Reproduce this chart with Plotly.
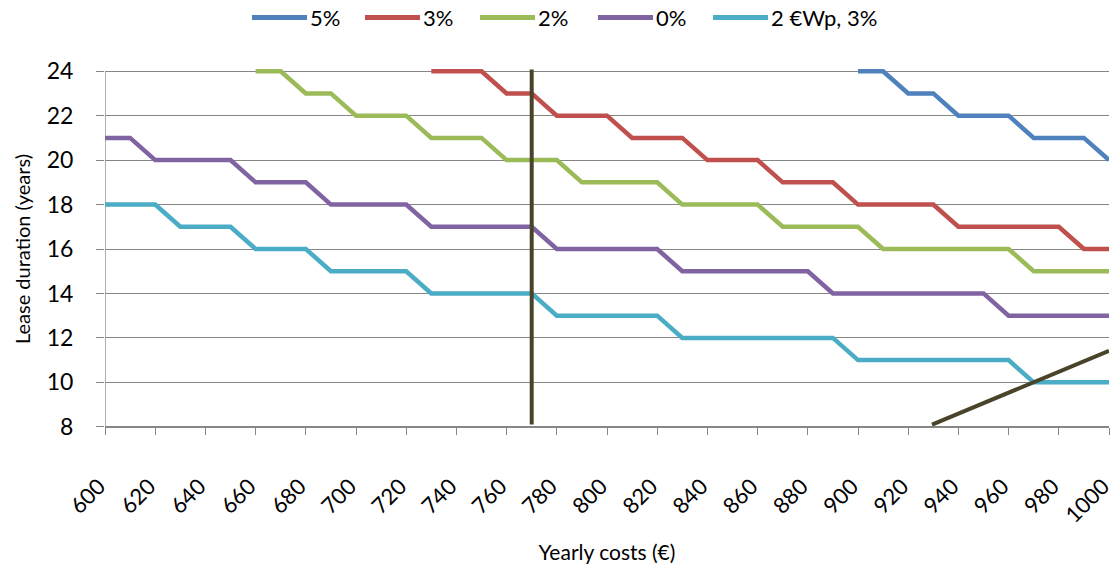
import plotly.graph_objects as go

# Yearly lease costs (EUR), one category every 10 EUR
yearly_costs = [600, 610, 620, 630, 640, 650, 660, 670, 680, 690,
                700, 710, 720, 730, 740, 750, 760, 770, 780, 790,
                800, 810, 820, 830, 840, 850, 860, 870, 880, 890,
                900, 910, 920, 930, 940, 950, 960, 970, 980, 990, 1000]

# Lease duration (years); None where the value lies above the axis maximum
rate_5 = [None] * 30 + [24, 24, 23, 23, 22, 22, 22, 21, 21, 21, 20]
rate_3 = [None] * 13 + [24, 24, 24, 23, 23, 22, 22, 22, 21, 21,
                        21, 20, 20, 20, 19, 19, 19, 18, 18, 18,
                        18, 17, 17, 17, 17, 17, 16, 16]
rate_2 = [None] * 6 + [24, 24, 23, 23, 22, 22, 22, 21, 21, 21,
                       20, 20, 20, 19, 19, 19, 19, 18, 18, 18,
                       18, 17, 17, 17, 17, 16, 16, 16, 16, 16,
                       16, 15, 15, 15, 15]
rate_0 = [21, 21, 20, 20, 20, 20, 19, 19, 19, 18,
          18, 18, 18, 17, 17, 17, 17, 17, 16, 16,
          16, 16, 16, 15, 15, 15, 15, 15, 15, 14,
          14, 14, 14, 14, 14, 14, 13, 13, 13, 13, 13]
wp2_rate_3 = [18, 18, 18, 17, 17, 17, 16, 16, 16, 15,
              15, 15, 15, 14, 14, 14, 14, 14, 13, 13,
              13, 13, 13, 12, 12, 12, 12, 12, 12, 12,
              11, 11, 11, 11, 11, 11, 11, 10, 10, 10, 10]

series_names = ["5%", "3%", "2%", "0%", "2 €Wp, 3%"]
series_values = [rate_5, rate_3, rate_2, rate_0, wp2_rate_3]
series_colors = ["#4F81BD", "#C0504D", "#9BBB59", "#8064A2", "#4BACC6"]

# Reference lines drawn over the chart
cost_mark_x = [770, 770]
cost_mark_y = [8.1, 24.08]
trend_mark_x = [929.5, 1000]
trend_mark_y = [8.1, 11.42]

x_tick_values = [600, 620, 640, 660, 680, 700, 720, 740, 760, 780, 800,
                 820, 840, 860, 880, 900, 920, 940, 960, 980, 1000]
y_tick_values = [8, 10, 12, 14, 16, 18, 20, 22, 24]

FONT = "Lato"
GRID = "#868686"
MARK = "#494429"
W, H = 1119, 564
M_L, M_R, M_T, M_B = 105, 10, 68.5, 135

fig = go.Figure()
for name, vals, color in zip(series_names, series_values, series_colors):
    fig.add_trace(go.Scatter(
        x=yearly_costs, y=vals, name=name, mode="lines",
        line=dict(color=color, width=4.5),
        connectgaps=False, showlegend=False,
    ))

for mx, my in ((cost_mark_x, cost_mark_y), (trend_mark_x, trend_mark_y)):
    fig.add_trace(go.Scatter(
        x=mx, y=my, mode="lines", showlegend=False, hoverinfo="skip",
        line=dict(color=MARK, width=4),
    ))

y_lo, y_hi = 7.9, 24.1

# left axis line between the lowest and highest gridline
fig.add_shape(type="line", xref="x", yref="y",
              x0=yearly_costs[0], x1=yearly_costs[0],
              y0=y_tick_values[0], y1=y_tick_values[-1],
              line=dict(color=GRID, width=1.3), layer="below")

# legend row above the plot: long line sample followed by the series name
plot_w = W - M_L - M_R
plot_h = H - M_T - M_B
legend_px_y = 17
legend_starts = [252, 365, 480, 598, 713]
sample_len = 55
for name, color, start in zip(series_names, series_colors, legend_starts):
    fy = 1 + (M_T - legend_px_y) / plot_h
    fx0 = (start - M_L) / plot_w
    fx1 = (start + sample_len - M_L) / plot_w
    fig.add_shape(type="line", xref="paper", yref="paper",
                  x0=fx0, x1=fx1, y0=fy, y1=fy,
                  line=dict(color=color, width=5))
    fig.add_annotation(xref="paper", yref="paper", x=fx1, y=fy,
                       xanchor="left", yanchor="middle", showarrow=False,
                       text=name, xshift=1,
                       font=dict(family=FONT, size=22, color="#000000"))

fig.update_layout(
    width=W, height=H,
    margin=dict(l=M_L, r=M_R, t=M_T, b=M_B, autoexpand=False),
    paper_bgcolor="white", plot_bgcolor="white",
    font=dict(family=FONT, color="#000000", size=20),
    showlegend=False,
    xaxis=dict(
        range=[599.999, 1000.001], tickmode="array", tickvals=x_tick_values,
        ticktext=[str(v) for v in x_tick_values],
        tickangle=-45, tickfont=dict(family=FONT, size=22),
        ticklabeloverflow="allow", automargin=False,
        ticklabelshift=-6,
        showgrid=False, zeroline=False,
        showline=True, linecolor=GRID, linewidth=1.3,
        ticks="outside", ticklen=7, tickcolor=GRID, tickwidth=1.3,
        anchor="free", position=(y_tick_values[0] - y_lo) / (y_hi - y_lo),
        ticklabelstandoff=30,
        title=dict(text="Yearly costs (€)", font=dict(family=FONT, size=21),
                   standoff=22),
    ),
    yaxis=dict(
        range=[y_lo, y_hi], tickmode="array", tickvals=y_tick_values,
        tickfont=dict(family=FONT, size=23), automargin=False,
        showgrid=True, gridcolor=GRID, gridwidth=1.3,
        zeroline=False, showline=False,
        ticks="outside", ticklen=8, tickcolor=GRID, tickwidth=1.3,
        ticklabelstandoff=18,
        title=dict(text="Lease duration (years)", font=dict(family=FONT, size=20),
                   standoff=10),
    ),
)

fig.write_html("out.html")
